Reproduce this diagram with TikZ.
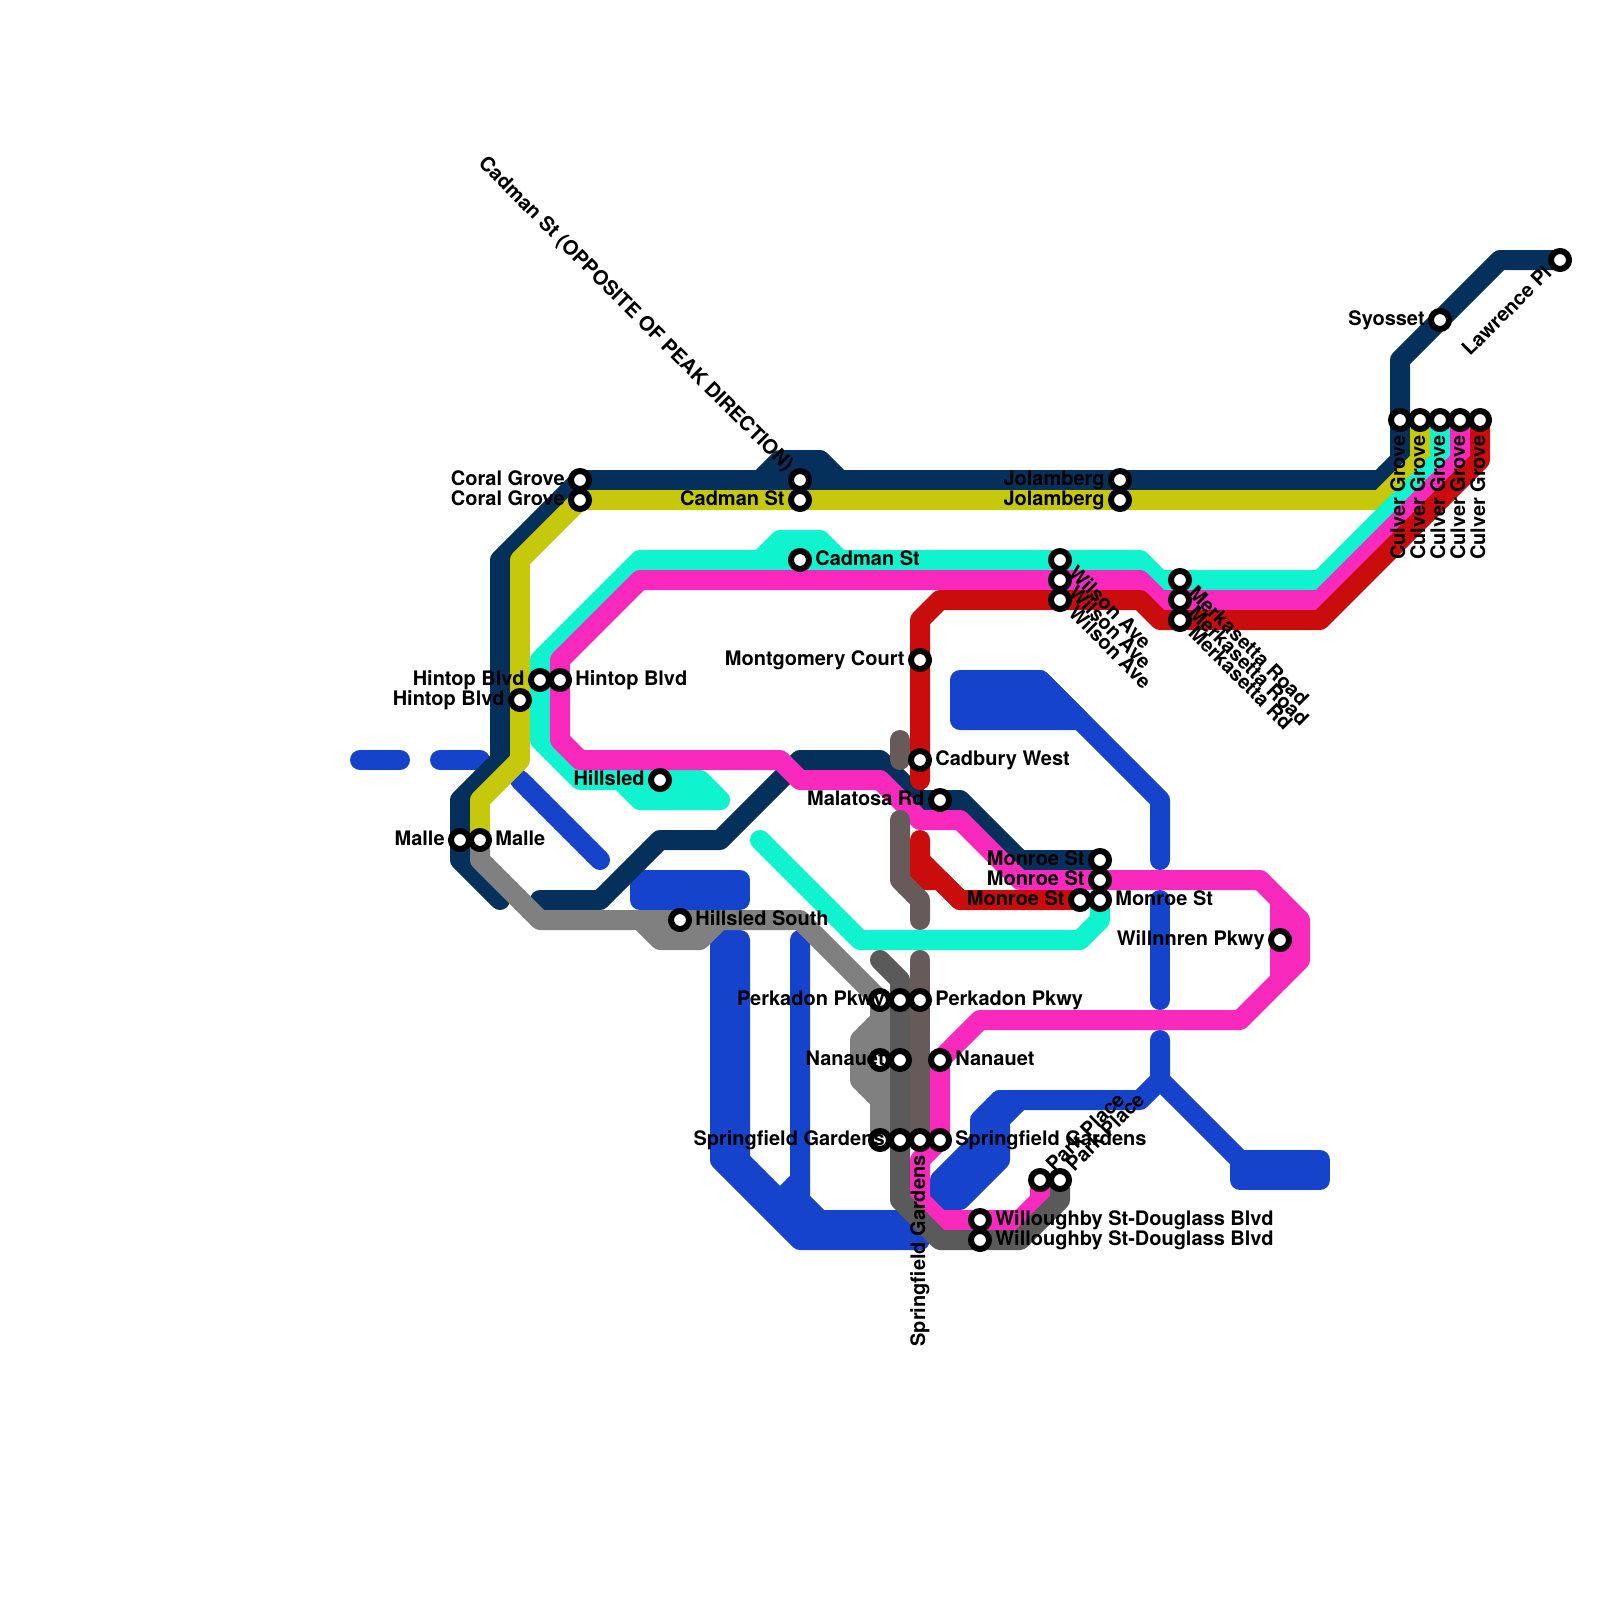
\documentclass[tikz,border=0pt]{standalone}
\usepackage{fontspec}
\setmainfont{TeX Gyre Heros}
\usetikzlibrary{calc, backgrounds}
\definecolor{navyline}{RGB}{5,48,92}
\definecolor{blueline}{RGB}{22,67,204}
\definecolor{yellowline}{RGB}{198,200,12}
\definecolor{cyanline}{RGB}{16,243,207}
\definecolor{pinkline}{RGB}{249,41,190}
\definecolor{redline}{RGB}{203,12,12}
\definecolor{grayline}{RGB}{128,128,128}
\definecolor{darkline}{RGB}{90,90,90}
\definecolor{taupeline}{RGB}{102,90,90}
\tikzset{
    route/.style={line width=2.5mm, line cap=round, line join=round},
    stn/.style={circle, draw=black, fill=white, line width=.75mm, inner sep=0pt, outer sep=0pt, minimum size=2.25mm},
    lbl/.style={inner sep=0pt, font=\fontsize{7.11}{8.5}\selectfont\bfseries}
}
\begin{document}
\begin{tikzpicture}[x=0.25cm, y=-0.25cm]
\useasboundingbox (0,0) rectangle (80,80);
\foreach \id/\x/\y in {
    lawrence/78/13, syosset/72/16,
    culverA/70/21, culverB/71/21, culverC/72/21, culverD/73/21, culverE/74/21,
    jolA/56/24, jolB/56/25,
    wilsonA/53/28, wilsonB/53/29, wilsonC/53/30,
    merkA/59/29, merkB/59/30, merkC/59/31,
    cadmanA/40/24, cadmanB/40/25, cadmanC/40/28,
    coralA/29/24, coralB/29/25,
    hintopA/26/35, hintopB/27/34, hintopC/28/34,
    malleA/23/42, malleB/24/42,
    hillsled/33/39, hillsouth/34/46,
    montgomery/46/33, cadbury/46/38, malatosa/47/40,
    monroeA/55/43, monroeB/55/44, monroeC/54/45, monroeD/55/45,
    willnnren/64/47,
    perkA/44/50, perkB/45/50, perkC/46/50,
    nanA/44/53, nanB/45/53, nanC/47/53,
    gardA/44/57, gardB/45/57, gardC/46/57, gardD/47/57,
    parkA/52/59, parkB/53/59,
    willA/49/61, willB/49/62
} {
    \node[stn] (\id) at (\x,\y) {};
}
\foreach \id/\ang/\txt in {
    coralA/0/Coral Grove, coralB/0/Coral Grove,
    cadmanA/-45/Cadman St (OPPOSITE OF PEAK DIRECTION), cadmanB/0/Cadman St,
    jolA/0/Jolamberg, jolB/0/Jolamberg,
    hintopA/0/Hintop Blvd, hintopB/0/Hintop Blvd,
    malleA/0/Malle, hillsled/0/Hillsled, syosset/0/Syosset,
    lawrence/45/Lawrence Pl,
    culverA/90/Culver Grove, culverB/90/Culver Grove, culverC/90/Culver Grove,
    culverD/90/Culver Grove, culverE/90/Culver Grove,
    montgomery/0/Montgomery Court, malatosa/0/Malatosa Rd,
    monroeA/0/Monroe St, monroeB/0/Monroe St, monroeC/0/Monroe St,
    willnnren/0/Willnnren Pkwy,
    perkB/0/Perkadon Pkwy, nanB/0/Nanauet, gardB/0/Springfield Gardens,
    gardC/90/Springfield Gardens
} {
    \node[lbl, anchor=base east, rotate=\ang] (txt\id) at ($(\id.center)+(\ang+180:1.85mm)+(\ang-90:.625mm)$) {\txt};
}
\foreach \id/\ang/\txt in {
    cadmanC/0/Cadman St, hintopC/0/Hintop Blvd, malleB/0/Malle,
    hillsouth/0/Hillsled South, cadbury/0/Cadbury West, monroeD/0/Monroe St,
    perkC/0/Perkadon Pkwy, nanC/0/Nanauet, gardD/0/Springfield Gardens,
    willA/0/Willoughby St-Douglass Blvd, willB/0/Willoughby St-Douglass Blvd,
    wilsonA/-45/Wilson Ave, wilsonB/-45/Wilson Ave, wilsonC/-45/Wilson Ave,
    merkA/-45/Merkasetta Road, merkB/-45/Merkasetta Road, merkC/-45/Merkasetta Rd,
    parkA/45/Park Place, parkB/45/Park Place
} {
    \node[lbl, anchor=base west, rotate=\ang] (txt\id) at ($(\id.center)+(\ang:1.85mm)+(\ang-90:.625mm)$) {\txt};
}
\begin{scope}[on background layer]
\fill[white] (0,0) rectangle (80,80);
\begin{scope}[route, draw=blueline, fill=blueline]
\draw (18,38) -- (20,38);
\draw (22,38) -- (24,38);
\draw (26,39) -- (30,43);
\filldraw (32,44) rectangle (37,45);
\filldraw (36,47) -- (37,47) -- (37,58) -- (40,61) -- (45,61) -- (46,62) -- (40,62) -- (36,58) -- cycle;
\draw (40,47) -- (40,60) -- (41,61);
\draw (40,59) -- (39,60);
\draw (58,54) -- (57,55) -- (50,55);
\filldraw (49,56) -- (50,55) -- (51,55) -- (50,56) -- (50,58) -- (48,60) -- (47,60) -- (47,59) -- (49,57) -- cycle;
\draw (58,52) -- (58,54) -- (62,58);
\filldraw (62,58) rectangle (66,59);
\draw (58,45) -- (58,50);
\filldraw (48,34) -- (52,34) -- (54,36) -- (48,36) -- cycle;
\draw (52,34) -- (58,40) -- (58,43);
\end{scope}
\begin{scope}[route, draw=navyline]
\draw (lawrence.center) -- (75,13) -- (70,18) -- (culverA.center) -- (70,23) -- (69,24) -- (coralA.center) -- (25,28) -- (25,38) -- (23,40) -- (23,43) -- (25,45);
\draw (38,24) -- (39,23) -- (41,23) -- (42,24);
\draw (27,45) -- (30,45) -- (33,42) -- (36,42) -- (40,38) -- (44,38) -- (46,40) -- (48,40) -- (51,43) -- (monroeA.center);
\end{scope}
\draw[route, yellowline] (culverB.center) -- (71,23) -- (69,25) -- (coralB.center) -- (26,28) -- (26,38) -- (24,40) -- (malleB.center);
\begin{scope}[route, draw=cyanline]
\draw (culverC.center) -- (72,23) -- (66,29) -- (58,29) -- (57,28) -- (32,28) -- (27,33) -- (27,37) -- (29,39) -- (35,39) -- (36,40) -- (32,40) -- (31,39);
\draw (38,28) -- (39,27) -- (41,27) -- (42,28);
\draw (38,42) -- (43,47) -- (54,47) -- (55,46) -- (monroeD.center);
\end{scope}
\begin{scope}[route, draw=pinkline]
\draw (culverD.center) -- (73,23) -- (66,30) -- (58,30) -- (57,29) -- (32,29) -- (28,33) -- (28,37) -- (29,38) -- (39,38) -- (40,39) -- (44,39) -- (46,41) -- (48,41) -- (51,44) -- (63,44) -- (64,45) -- (64,49) -- (62,51) -- (49,51) -- (47,53) -- (47,57) -- (46,58) -- (46,60) -- (47,61) -- (51,61) -- (52,60) -- (parkA.center);
\draw (64,45) -- (65,46) -- (65,48) -- (64,49);
\end{scope}
\begin{scope}[route, draw=redline]
\draw (culverE.center) -- (74,23) -- (66,31) -- (58,31) -- (57,30) -- (47,30) -- (46,31) -- (46,39);
\draw (46,42) -- (46,44) -- (47,44) -- (48,45) -- (monroeC.center);
\draw (46,43) -- (48,45);
\end{scope}
\begin{scope}[route, draw=grayline]
\draw (malleB.center) -- (24,43) -- (27,46) -- (40,46) -- (perkA.center) -- (gardA.center);
\draw (32,46) -- (33,47) -- (35,47) -- (36,46);
\draw (44,51) -- (43,52) -- (43,54) -- (44,55);
\end{scope}
\draw[route, darkline] (44,48) -- (45,49) -- (45,60) -- (47,62) -- (51,62) -- (53,60) -- (parkB.center);
\begin{scope}[route, draw=taupeline]
\draw (45,37) -- (45,38);
\draw (45,41) -- (45,44) -- (46,45) -- (46,46);
\draw (46,48) -- (gardC.center);
\end{scope}
\end{scope}
\end{tikzpicture}
\end{document}
